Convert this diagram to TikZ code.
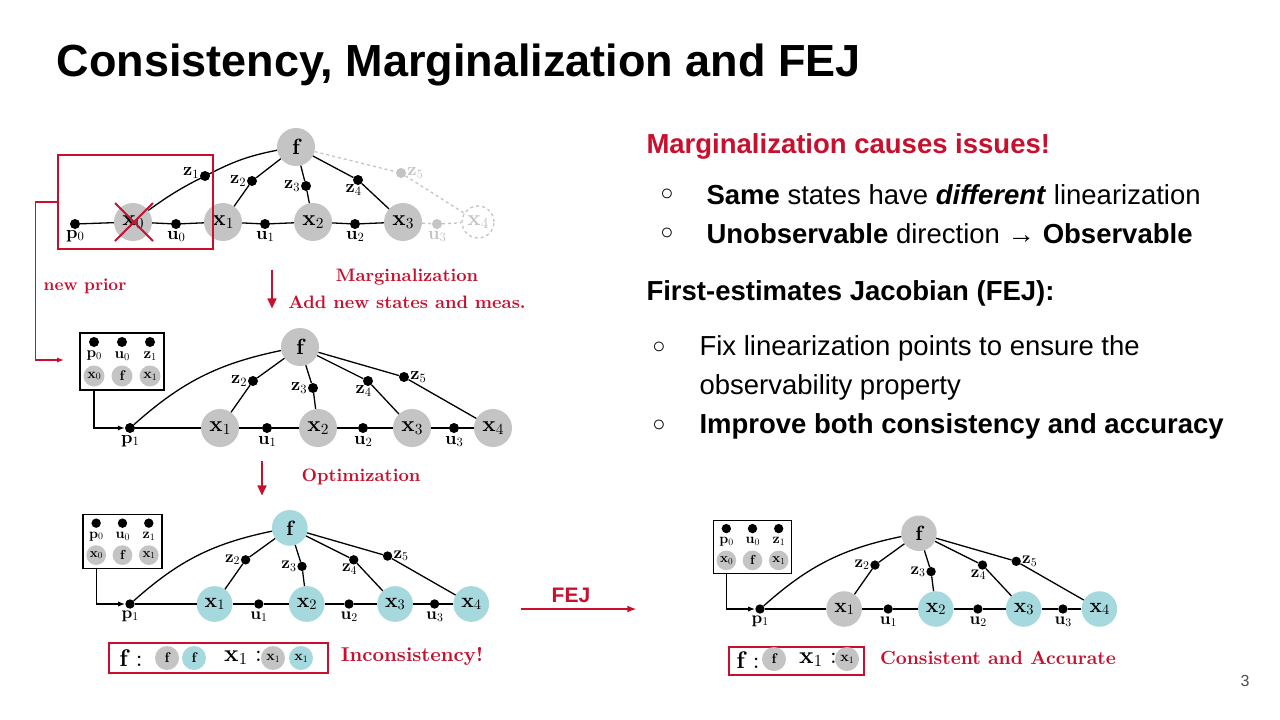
\documentclass[tikz,border=0pt]{standalone}
\usepackage{fontspec}
\setmainfont{Liberation Sans}
\usetikzlibrary{arrows.meta,positioning,backgrounds}
\newfontfamily\serif{lmroman10-regular.otf}[BoldFont=lmroman10-bold.otf,ItalicFont=lmroman10-italic.otf]
\definecolor{myred}{HTML}{C8102E}
\definecolor{gnode}{HTML}{C4C4C4}
\definecolor{bnode}{HTML}{A6D9DE}
\tikzset{
 big/.style={circle,fill=#1,minimum size=38pt,inner sep=0pt,font=\serif\fontsize{22}{22}\selectfont},
 dot/.style={circle,fill=black,minimum size=10pt,inner sep=0pt},
 sm/.style={circle,fill=#1,minimum size=21pt,inner sep=0pt,font=\serif\fontsize{14}{14}\selectfont},
 lab/.style={font=\serif\fontsize{18}{18}\selectfont,inner sep=1pt},
 ln/.style={line width=1.3pt},
 rtext/.style={text=myred,font=\serif\bfseries\fontsize{17}{21}\selectfont},
 btext/.style={anchor=west,font=\fontsize{27.5}{30}\selectfont},
}
\newcommand\bx[1]{{\serif\bfseries #1}}
\newcommand\sub[1]{\raisebox{-0.3ex}{\scalebox{0.7}{\serif #1}}}
% #1 prefix, #2 origin, #3 scale, #4 f fill, #5 x1 fill, #6 other x fill
\newcommand\fgraph[6]{
\begin{scope}[shift={#2},scale=#3,transform shape]
 \node[dot] (#1p) at (0,0) {};
 \node[lab,below=1pt of #1p] {\bx{p}\sub{1}};
 \node[big=#5] (#1x1) at (90,0) {\bx{x}\sub{1}};
 \node[dot] (#1u1) at (137,0) {}; \node[lab,below=2pt of #1u1] {\bx{u}\sub{1}};
 \node[big=#6] (#1x2) at (188,0) {\bx{x}\sub{2}};
 \node[dot] (#1u2) at (233,0) {}; \node[lab,below=2pt of #1u2] {\bx{u}\sub{2}};
 \node[big=#6] (#1x3) at (282,0) {\bx{x}\sub{3}};
 \node[dot] (#1u3) at (324,0) {}; \node[lab,below=2pt of #1u3] {\bx{u}\sub{3}};
 \node[big=#6] (#1x4) at (363,0) {\bx{x}\sub{4}};
 \node[big=#4] (#1f) at (170,-81) {\bx{f}};
 \node[dot] (#1z2) at (123,-47) {}; \node[lab,left=0pt of #1z2] {\bx{z}\sub{2}};
 \node[dot] (#1z3) at (183,-40) {}; \node[lab,left=0pt of #1z3] {\bx{z}\sub{3}};
 \node[dot] (#1z4) at (238,-47) {}; \node[lab,below left=0pt and -8pt of #1z4] {\bx{z}\sub{4}};
 \node[dot] (#1z5) at (274,-51) {}; \node[lab,right=0pt of #1z5] {\bx{z}\sub{5}};
 \draw[ln] (#1p) -- (#1x1) -- (#1u1) -- (#1x2) -- (#1u2) -- (#1x3) -- (#1u3) -- (#1x4);
 \draw[ln] (#1f) -- (#1z2) -- (#1x1);
 \draw[ln] (#1f) -- (#1z3) -- (#1x2);
 \draw[ln] (#1f) -- (#1z4) -- (#1x3);
 \draw[ln] (#1f) -- (#1z5) -- (#1x4);
 \draw[ln] (#1f) to[bend right=15] (#1p);
 \node[draw,ln,minimum width=84pt,minimum height=57pt,inner sep=0pt] (#1box) at (-8,-66.5) {};
 \foreach \i/\t/\s/\xx in {a/p/0/-36,b/u/0/-8,c/z/1/20}{
  \node[dot] (#1d\i) at (\xx,-86) {};
  \node[lab,font=\serif\fontsize{15}{15}\selectfont] at (\xx,-72) {\bx{\t}\sub{\s}};
 }
 \node[sm=gnode] (#1s1) at (-36,-52) {\bx{x}\sub{0}};
 \node[sm=gnode] (#1s2) at (-8,-52) {\bx{f}};
 \node[sm=gnode] (#1s3) at (20,-52) {\bx{x}\sub{1}};
 \draw[ln,-{Latex[length=7pt]}] (#1box.south -| #1s1) |- (#1p);
\end{scope}}
\begin{document}
\begin{tikzpicture}[x=1pt,y=-1pt]
\useasboundingbox[fill=white] (0,0) rectangle (1280,720);
\node[anchor=west,font=\bfseries\fontsize{45}{48}\selectfont] at (53,65) {Consistency, Marginalization and FEJ};
% ---- top graph
\begin{scope}
 \node[dot] (p0) at (75,224) {}; \node[lab,below=0pt of p0] {\bx{p}\sub{0}};
 \node[big=gnode] (x0) at (133,222) {\bx{x}\sub{0}};
 \node[dot] (u0) at (176,224) {}; \node[lab,below=1pt of u0] {\bx{u}\sub{0}};
 \node[big=gnode] (tx1) at (223,222) {\bx{x}\sub{1}};
 \node[dot] (tu1) at (265,224) {}; \node[lab,below=1pt of tu1] {\bx{u}\sub{1}};
 \node[big=gnode] (tx2) at (313,222) {\bx{x}\sub{2}};
 \node[dot] (tu2) at (355,224) {}; \node[lab,below=1pt of tu2] {\bx{u}\sub{2}};
 \node[big=gnode] (tx3) at (403,222) {\bx{x}\sub{3}};
 \node[dot,fill=gnode] (tu3) at (437,224) {}; \node[lab,text=gnode,below=1pt of tu3] {\bx{u}\sub{3}};
 \node[big=white,draw=gnode,dashed,line width=1.3pt,minimum size=32pt,text=gnode] (tx4) at (478,222) {\bx{x}\sub{4}};
 \node[big=gnode] (tf) at (296,147) {\bx{f}};
 \node[dot] (z1) at (205,176) {}; \node[lab,left=0pt of z1,yshift=3pt] {\bx{z}\sub{1}};
 \node[dot] (tz2) at (252,181) {}; \node[lab,left=0pt of tz2] {\bx{z}\sub{2}};
 \node[dot] (tz3) at (306,186) {}; \node[lab,left=0pt of tz3] {\bx{z}\sub{3}};
 \node[dot] (tz4) at (358,180) {}; \node[lab,below left=0pt and -8pt of tz4] {\bx{z}\sub{4}};
 \node[dot,fill=gnode] (tz5) at (401,173) {}; \node[lab,text=gnode,right=0pt of tz5] {\bx{z}\sub{5}};
 \draw[ln] (p0) -- (x0) -- (u0) -- (tx1) -- (tu1) -- (tx2) -- (tu2) -- (tx3);
 \draw[ln,gnode,dashed] (tx3) -- (tu3) -- (tx4);
 \draw[ln] (tf) -- (tz2) -- (tx1);
 \draw[ln] (tf) -- (tz3) -- (tx2);
 \draw[ln] (tf) -- (tz4) -- (tx3);
 \draw[ln,gnode,dashed] (tf) -- (tz5) -- (tx4);
 \draw[ln] (tf) to[bend right=8] (z1) to[bend right=5] (x0);
 \draw[myred,line width=2pt] (115,203) -- (153,241) (115,241) -- (153,203);
 \node[draw=myred,line width=1.3pt,minimum width=155pt,minimum height=94pt,inner sep=0pt] (mbox) at (135.5,202) {};
 \coordinate (pr) at (64,360);
 \draw[myred,line width=1.2pt,-{Latex[length=7pt]}] (mbox.west) -- ++(-22,0) |- (pr);
 \node[rtext] at (85,286) {new prior};
\end{scope}
\node (ma) at (272,266) {}; \node (mb) at (272,312) {};
\draw[myred,line width=1.5pt,-{Triangle[length=10pt,width=9pt]}] (ma) -- (mb);
\node[rtext,align=center,font=\serif\bfseries\fontsize{18}{27}\selectfont] at (407,289) {Marginalization\\Add new states and meas.};
\fgraph{b}{(130,428)}{1}{gnode}{gnode}{gnode}
\node (oa) at (262,457) {}; \node (ob) at (262,499) {};
\draw[myred,line width=1.5pt,-{Triangle[length=10pt,width=9pt]}] (oa) -- (ob);
\node[rtext,font=\serif\bfseries\fontsize{18}{22}\selectfont] at (361,477) {Optimization};
\fgraph{c}{(130,604)}{0.94}{bnode}{bnode}{bnode}
\fgraph{d}{(760,609)}{0.935}{gnode}{gnode}{bnode}
\node (fa) at (517,609) {}; \node (fb) at (640,609) {};
\draw[myred,line width=1.5pt,-{Latex[length=9pt]}] (fa) -- (fb);
\node[text=myred,font=\bfseries\fontsize{21}{22}\selectfont] at (571,595) {FEJ};
% bottom boxes
\node[draw=myred,line width=1.3pt,minimum width=219pt,minimum height=30pt] (ib) at (218.5,658) {};
\node[font=\serif\fontsize{24}{24}\selectfont] at (131,658) {\bx{f} :};
\node[sm=gnode,minimum size=24pt] (i1) at (167,658) {\bx{f}};
\node[sm=bnode,minimum size=24pt] (i2) at (194,658) {\bx{f}};
\node[font=\serif\fontsize{24}{24}\selectfont] at (243,658) {\bx{x}\sub{1} :};
\node[sm=gnode,minimum size=24pt] (i3) at (273,658) {\bx{x}\sub{1}};
\node[sm=bnode,minimum size=24pt] (i4) at (301,658) {\bx{x}\sub{1}};
\node[rtext,font=\serif\bfseries\fontsize{20}{20}\selectfont] at (412,656) {Inconsistency!};
\node[draw=myred,line width=1.3pt,minimum width=135pt,minimum height=28pt] (cb) at (796.5,661) {};
\node[font=\serif\fontsize{24}{24}\selectfont] at (748,660) {\bx{f} :};
\node[sm=gnode,minimum size=24pt] (j1) at (774,659) {\bx{f}};
\node[font=\serif\fontsize{24}{24}\selectfont] at (818,660) {\bx{x}\sub{1} :};
\node[sm=gnode,minimum size=24pt] (j2) at (847,659) {\bx{x}\sub{1}};
\node[rtext,font=\serif\bfseries\fontsize{19}{20}\selectfont] at (998,658) {Consistent and Accurate};
% right text
\node[anchor=west,text=myred,font=\bfseries\fontsize{27.5}{30}\selectfont] at (643,146) {Marginalization causes issues!};
\node[font=\fontsize{22}{24}\selectfont] at (667,195) {○};
\node[font=\fontsize{22}{24}\selectfont] at (667,234) {○};
\node[btext] at (703,195) {\textbf{Same} states have \textbf{\textit{different}} linearization};
\node[btext] at (703,234) {\textbf{Unobservable} direction → \textbf{Observable}};
\node[anchor=west,font=\bfseries\fontsize{27.5}{30}\selectfont] at (643,293) {First-estimates Jacobian (FEJ):};
\node[font=\fontsize{22}{24}\selectfont] at (659,348) {○};
\node[font=\fontsize{22}{24}\selectfont] at (659,426) {○};
\node[btext] at (696,348) {Fix linearization points to ensure the};
\node[btext] at (696,387) {observability property};
\node[btext] at (696,426) {\textbf{Improve both consistency and accuracy}};
\node[font=\fontsize{16}{18}\selectfont,text=black!70] at (1245,681) {3};
\end{tikzpicture}
\end{document}
